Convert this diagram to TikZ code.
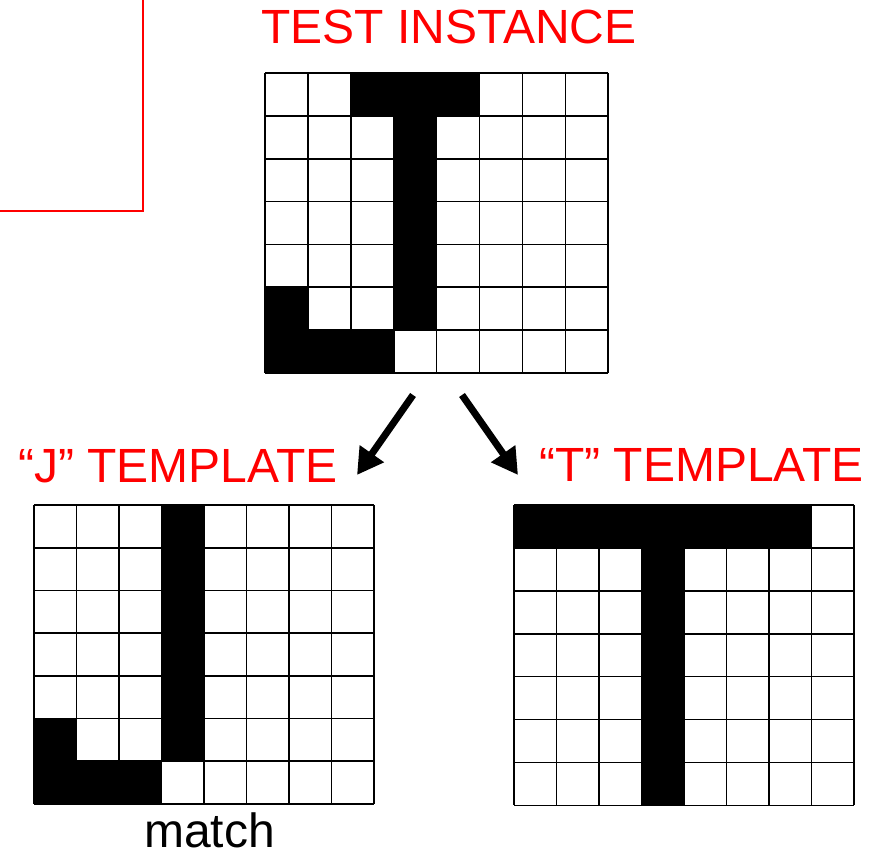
\documentclass[tikz,border=0pt]{standalone}
\usepackage{fontspec}
\setmainfont{Liberation Sans}
\usetikzlibrary{arrows.meta}
\definecolor{pptred}{RGB}{255,0,0}
\tikzset{
  caption/.style={text=pptred, font=\fontsize{48}{56}\selectfont, anchor=base west, inner sep=0pt},
  note/.style={text=black, font=\fontsize{48}{56}\selectfont, anchor=base west, inner sep=0pt},
  gridline/.style={line width=1.6pt, black},
  gridbox/.style={inner sep=0pt, anchor=north west},
  arrowline/.style={line width=7pt, -{Triangle[length=26pt,width=28pt]}},
  frameline/.style={pptred, line width=2pt}
}
% 8 x 7 cell grid in the current scope units
\newcommand{\cellgrid}{%
  \foreach \c in {0,...,8} \draw[gridline] (\c,0) -- (\c,7);
  \foreach \r in {0,...,7} \draw[gridline] (0,\r) -- (8,\r);
}
\begin{document}
\begin{tikzpicture}[x=1pt,y=-1pt]
\useasboundingbox (0,0) rectangle (875,858);
\fill[white] (0,0) rectangle (875,858);

% corner of the slide frame
\draw[frameline] (143,0) -- (143,211) -- (0,211);

% captions
\node[caption] (ttest) at (261,44) {TEST INSTANCE};
\node[caption] (tj) at (18,482) {“J” TEMPLATE};
\node[caption] (tt) at (539,481) {“T” TEMPLATE};
\node[note] (tmatch) at (144,847) {match};

% test instance grid
\node[gridbox, minimum width=343pt, minimum height=300pt] (test) at (265,73) {};
\begin{scope}[shift={(265,73)}, x=42.9pt, y=-42.86pt]
  \cellgrid
  \foreach \c/\r in {2/0,3/0,4/0,3/1,3/2,3/3,3/4,3/5,0/5,0/6,1/6,2/6}
    \fill[black] (\c,\r) rectangle ++(1,1);
\end{scope}

% "J" template grid
\node[gridbox, minimum width=340pt, minimum height=299pt] (jgrid) at (34,505) {};
\begin{scope}[shift={(34,505)}, x=42.5pt, y=-42.7pt]
  \cellgrid
  \foreach \c/\r in {3/0,3/1,3/2,3/3,3/4,3/5,0/5,0/6,1/6,2/6}
    \fill[black] (\c,\r) rectangle ++(1,1);
\end{scope}

% "T" template grid
\node[gridbox, minimum width=340pt, minimum height=300pt] (tgrid) at (514,505) {};
\begin{scope}[shift={(514,505)}, x=42.5pt, y=-42.9pt]
  \cellgrid
  \foreach \c/\r in {0/0,1/0,2/0,3/0,4/0,5/0,6/0,3/1,3/2,3/3,3/4,3/5,3/6}
    \fill[black] (\c,\r) rectangle ++(1,1);
\end{scope}

% arrows from the test instance to the two templates
\coordinate (lstart) at (413,395);
\coordinate (lend) at (357,475);
\coordinate (rstart) at (462,395);
\coordinate (rend) at (518,475);
\draw[arrowline] (lstart) -- (lend);
\draw[arrowline] (rstart) -- (rend);
\end{tikzpicture}
\end{document}
